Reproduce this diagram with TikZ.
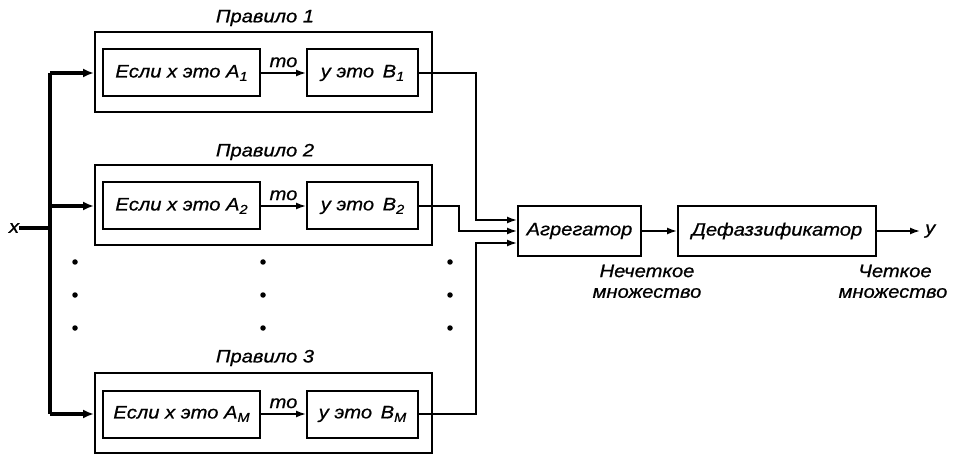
\documentclass[tikz,border=0pt]{standalone}
\usepackage{fontspec}
\setmainfont{Liberation Sans}[FakeStretch=1.12,FakeBold=0.8]
\usetikzlibrary{arrows.meta,calc}
\newcommand{\sbs}[1]{\raisebox{-3.5pt}{\fontsize{13}{13}\selectfont #1}}
\begin{document}
\begin{tikzpicture}[x=1pt,y=-1pt,
  every node/.style={font=\fontsize{18}{21}\selectfont\itshape},
  outerbox/.style={draw,line width=2pt,minimum width=337pt,minimum height=80pt,inner sep=0pt},
  abox/.style={draw,line width=2pt,minimum width=157pt,minimum height=47pt,inner sep=0pt},
  bbox/.style={draw,line width=2pt,minimum width=111pt,minimum height=47pt,inner sep=0pt},
  blk/.style={draw,line width=2pt,minimum height=50pt,inner sep=0pt},
  conn/.style={line width=1.6pt},
  arr/.style={line width=1.6pt,-{Latex[length=10pt,width=7pt]}},
  bus/.style={line width=3.2pt},
  busarr/.style={line width=3.2pt,-{Latex[length=11pt,width=9pt]}},
  lbl/.style={inner sep=0pt},
  dot/.style={circle,fill,inner sep=0pt,minimum size=5.5pt}
]
\useasboundingbox (0,0) rectangle (955,454);

% Rules
\foreach \i/\y/\sub/\t in {1/72/1/18, 2/205/2/152, 3/413/M/358}{
  \node[outerbox] (r\i) at (263.5,\y) {};
  \node[abox] (a\i) at (181.5,\y+1) {Если x это A\sbs{\sub}};
  \node[bbox] (b\i) at (362.5,\y+1) {y это \,B\sbs{\sub}};
  \draw[arr] (a\i) -- (b\i) node[lbl,midway,above=5pt] {то};
  \node[lbl] (t\i) at (265,\t) {Правило \ifnum\i=3 3\else\i\fi};
}

% input
\node[lbl] (xin) at (14,228) {x};
\coordinate (bustop) at (50,73);
\coordinate (busbot) at (50,414);
\coordinate (busx) at (50,228);
\draw[bus] (bustop) -- (busbot);
\draw[bus] (xin.east) -- (busx);
\draw[busarr] (bustop) -- (bustop -| r1.west);
\draw[busarr] (50,206) -- (50,206 -| r2.west);
\draw[busarr] (busbot) -- (busbot -| r3.west);

% aggregator & defuzzifier
\node[blk,minimum width=123pt] (agg) at (579.5,231) {Агрегатор};
\node[blk,minimum width=198pt] (def) at (777,231) {Дефаззификатор};
\draw[arr] (agg) -- (def);
\coordinate (yend) at (920,231);
\draw[arr] (def) -- (yend);
\node[lbl,anchor=west] (yout) at (925,231) {y};

\draw[arr] (b1.east) -- ++(57,0) |- ([yshift=11pt]agg.west);
\draw[arr] (b2.east) -- ++(40,0) |- (agg.west);
\draw[arr] (b3.east) -- ++(57,0) |- ([yshift=-12pt]agg.west);

% labels
\node[lbl] (n1) at (647,271) {Нечеткое};
\node[lbl] (n2) at (647,293) {множество};
\node[lbl] (c1) at (895,271) {Четкое};
\node[lbl] (c2) at (893,293) {множество};

% dots
\foreach \yy in {262,295,328}{
  \foreach \xx in {75,263,450}{
    \node[dot] at (\xx,\yy) {};
  }
}
\end{tikzpicture}
\end{document}
